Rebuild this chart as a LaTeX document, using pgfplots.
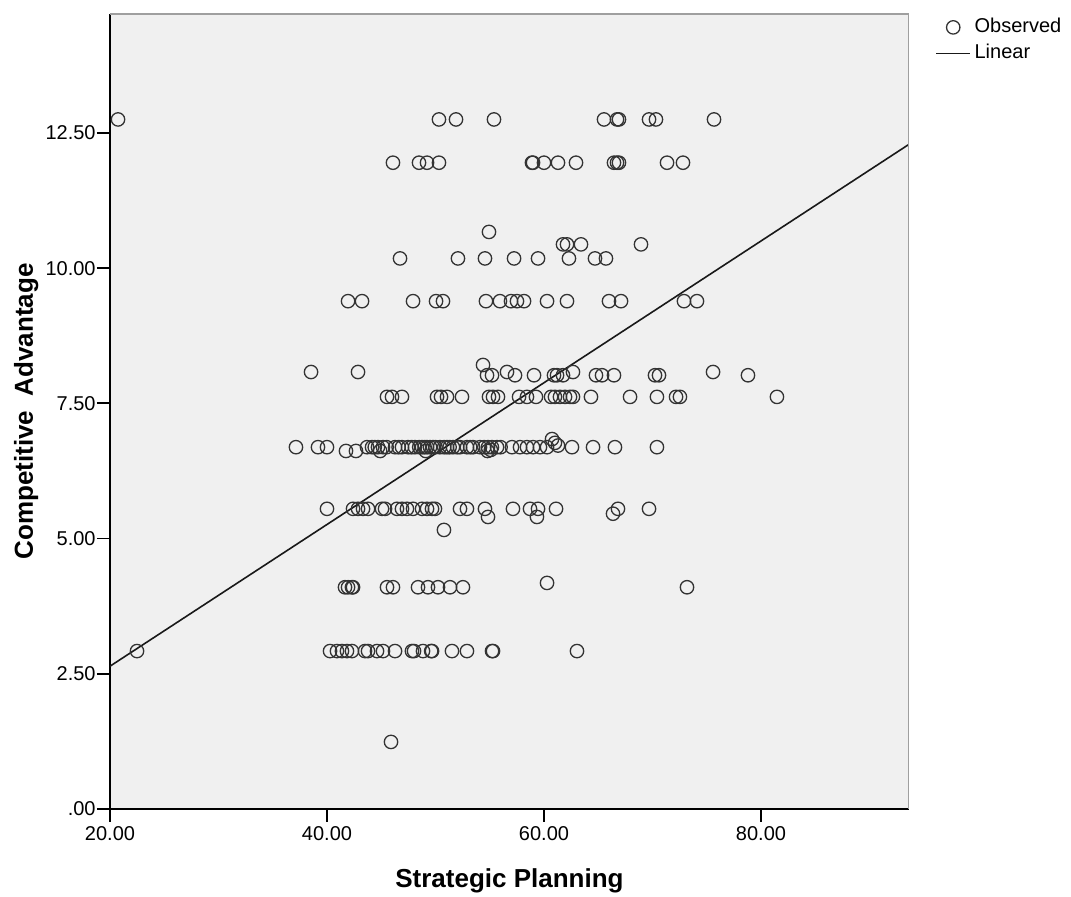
\documentclass[border=0pt]{standalone}
\usepackage{fontspec}
\setmainfont{Liberation Sans}
\usepackage{pgfplots}
\pgfplotsset{compat=1.18}
\definecolor{bggray}{HTML}{F0F0F0}
\definecolor{mk}{HTML}{333333}
\begin{document}
\begin{tikzpicture}
\useasboundingbox (-55pt,-44pt) rectangle (480.5pt,404.5pt);
\begin{axis}[
  at={(0,0)}, anchor=south west,
  scale only axis, width=399.5pt, height=397.5pt,
  xmin=20, xmax=93.64, ymin=0, ymax=14.7,
  axis background/.style={fill=bggray},
  axis x line*=bottom, axis y line*=left,
  axis line style={-, black, line width=0.9pt},
  tick align=outside, major tick length=6.5pt,
  tick style={black, line width=0.9pt},
  xtick={20,40,60,80}, xticklabels={20.00,40.00,60.00,80.00},
  ytick={0,2.5,5,7.5,10,12.5}, yticklabels={.00,2.50,5.00,7.50,10.00,12.50},
  ticklabel style={font=\fontsize{10}{12}\selectfont},
  yticklabel style={inner xsep=0.5pt},
  xticklabel style={inner ysep=2pt},
  xlabel={Strategic Planning},
  ylabel={Competitive\ \ Advantage},
  label style={font=\bfseries\fontsize{13}{15}\selectfont},
  xlabel style={at={(axis description cs:0.5,0)}, anchor=base, yshift=-39.5pt},
  ylabel style={at={(axis description cs:0,0.5)}, anchor=base, yshift=38.5pt},
  legend style={at={(axis description cs:1.0325,1)}, anchor=north west,
    draw=none, fill=none, inner sep=0pt, font=\fontsize{10}{12}\selectfont,
    nodes={inner sep=1.75pt, text height=7.5pt, text depth=2pt}},
  legend cell align=left,
]
\addplot[only marks, mark=o, mark size=3.35pt, mark options={draw=mk, line width=0.65pt}] table {
x y
20.74 12.75
50.32 12.75
51.89 12.75
55.39 12.75
65.53 12.75
66.73 12.75
66.91 12.75
69.68 12.75
70.32 12.75
75.67 12.75
46.08 11.95
48.48 11.95
49.22 11.95
50.32 11.95
58.89 11.95
58.99 11.95
60.00 11.95
61.29 11.95
62.95 11.95
66.45 11.95
66.73 11.95
66.91 11.95
71.34 11.95
72.81 11.95
54.93 10.67
61.75 10.44
62.12 10.44
63.41 10.44
68.94 10.44
46.73 10.18
52.07 10.18
54.56 10.18
57.24 10.18
59.45 10.18
62.30 10.18
64.70 10.18
65.71 10.18
41.94 9.39
43.23 9.39
47.93 9.39
50.05 9.39
50.69 9.39
54.65 9.39
55.94 9.39
56.96 9.39
57.51 9.39
58.16 9.39
60.28 9.39
62.12 9.39
65.99 9.39
67.10 9.39
72.90 9.39
74.10 9.39
54.38 8.21
38.53 8.08
42.86 8.08
56.59 8.08
62.67 8.08
75.58 8.08
54.75 8.02
55.21 8.02
57.33 8.02
59.08 8.02
60.92 8.02
61.20 8.02
61.75 8.02
64.79 8.02
65.35 8.02
66.45 8.02
70.23 8.02
70.60 8.02
78.80 8.02
45.53 7.62
45.99 7.62
46.91 7.62
50.14 7.62
50.51 7.62
51.06 7.62
52.44 7.62
54.93 7.62
55.30 7.62
55.76 7.62
57.70 7.62
58.43 7.62
59.26 7.62
60.65 7.62
61.01 7.62
61.47 7.62
61.94 7.62
62.40 7.62
62.67 7.62
64.33 7.62
67.93 7.62
70.41 7.62
72.17 7.62
72.53 7.62
81.47 7.62
37.14 6.69
39.17 6.69
40.00 6.69
43.69 6.69
44.15 6.69
44.40 6.69
44.70 6.69
45.16 6.69
45.50 6.69
46.27 6.69
46.60 6.69
46.91 6.69
47.47 6.69
47.80 6.69
48.11 6.69
48.50 6.69
48.76 6.69
49.00 6.69
49.22 6.69
49.50 6.69
49.77 6.69
50.00 6.69
50.41 6.69
50.80 6.69
51.06 6.69
51.30 6.69
51.61 6.69
52.00 6.69
52.26 6.69
52.90 6.69
53.20 6.69
53.46 6.69
54.10 6.69
54.50 6.69
54.84 6.69
55.20 6.69
55.67 6.69
56.00 6.69
57.05 6.69
57.79 6.69
58.43 6.69
58.99 6.69
59.63 6.69
60.28 6.69
61.29 6.72
62.58 6.69
64.52 6.69
66.54 6.69
70.41 6.69
60.74 6.84
61.01 6.77
41.75 6.62
42.67 6.62
44.90 6.62
49.10 6.62
54.80 6.62
55.10 6.64
40.00 5.55
42.40 5.55
42.86 5.55
43.32 5.55
43.78 5.55
45.07 5.55
45.35 5.55
46.45 5.55
46.91 5.55
47.37 5.55
47.93 5.55
48.76 5.55
49.22 5.55
49.68 5.55
49.95 5.55
52.26 5.55
52.90 5.55
54.56 5.55
57.14 5.55
58.71 5.55
59.45 5.55
61.11 5.55
66.82 5.55
69.68 5.55
54.84 5.40
59.35 5.40
66.36 5.46
50.78 5.16
41.66 4.10
41.94 4.10
42.30 4.10
42.40 4.10
45.53 4.10
46.08 4.10
48.39 4.10
49.31 4.10
50.23 4.10
51.34 4.10
52.53 4.10
73.18 4.10
60.28 4.18
22.49 2.92
40.28 2.92
40.92 2.92
41.38 2.92
41.84 2.92
42.30 2.92
43.50 2.92
43.78 2.92
44.61 2.92
45.16 2.92
46.27 2.92
47.83 2.92
48.02 2.92
48.85 2.92
49.60 2.92
49.68 2.92
51.52 2.92
52.90 2.92
55.21 2.92
55.30 2.92
63.04 2.92
45.90 1.24
};
\addlegendentry{Observed}
\addplot[color=black!90, line width=0.8pt] coordinates {(20,2.64) (93.64,12.29)};
\addlegendentry{Linear}
\draw[gray!75, line width=0.8pt] (rel axis cs:0,1) -- (rel axis cs:1,1) -- (rel axis cs:1,0);
\end{axis}
\end{tikzpicture}
\end{document}
